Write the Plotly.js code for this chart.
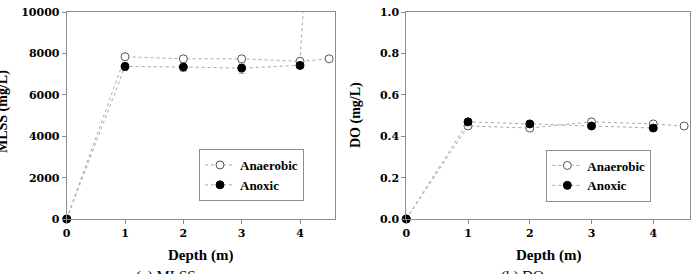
<!DOCTYPE html>
<html>
<head>
<meta charset="utf-8">
<script src="https://cdn.plot.ly/plotly-3.0.1.min.js"></script>
<style>html,body{margin:0;padding:0;background:#fff;}#chart{width:694px;height:274px;}</style>
</head>
<body>
<div id="chart"></div>
<script>
// ---- data ----
const depthAnaerobic = [0, 1, 2, 3, 4, 4.5];
const depthAnoxic = [0, 1, 2, 3, 4];
const mlssAnaerobic = [0, 7850, 7750, 7750, 7630, 7750];
const mlssAnaerobicErr = [0, 150, 150, 150, 100, 0];
const mlssAnoxic = [0, 7380, 7350, 7300, 7430];
const mlssAnoxicErr = [0, 200, 200, 250, 100];
const mlssSpikeX = [4, 4.06];
const mlssSpikeY = [7630, 10300];
const doAnaerobic = [0, 0.45, 0.44, 0.47, 0.46, 0.45];
const doAnoxic = [0, 0.47, 0.46, 0.45, 0.44];
const xTicks = [0, 1, 2, 3, 4];
const seriesNames = ['Anaerobic', 'Anoxic'];

const serif = 'Liberation Serif';
const tickSerif = 'DejaVu Serif';
const lineStyle = {color: '#a8a8a8', width: 1, dash: 'dot'};
const openMarker = {symbol: 'circle', size: 8, color: '#ffffff', line: {color: '#555555', width: 1}};
const fullMarker = {symbol: 'circle', size: 8, color: '#000000', line: {color: '#000000', width: 1}};
const errStyle = {type: 'data', visible: true, color: '#999999', thickness: 1, width: 3};

const traces = [
  {x: mlssSpikeX, y: mlssSpikeY, mode: 'lines', line: lineStyle, showlegend: false, xaxis: 'x', yaxis: 'y', hoverinfo: 'skip'},
  {x: depthAnaerobic, y: mlssAnaerobic, name: seriesNames[0], mode: 'lines+markers', line: lineStyle, marker: openMarker,
   error_y: Object.assign({array: mlssAnaerobicErr}, errStyle), xaxis: 'x', yaxis: 'y', legend: 'legend', cliponaxis: false},
  {x: depthAnoxic, y: mlssAnoxic, name: seriesNames[1], mode: 'lines+markers', line: lineStyle, marker: fullMarker,
   error_y: Object.assign({array: mlssAnoxicErr}, errStyle), xaxis: 'x', yaxis: 'y', legend: 'legend', cliponaxis: false},
  {x: depthAnaerobic, y: doAnaerobic, name: seriesNames[0], mode: 'lines+markers', line: lineStyle, marker: openMarker,
   xaxis: 'x2', yaxis: 'y2', legend: 'legend2', cliponaxis: false},
  {x: depthAnoxic, y: doAnoxic, name: seriesNames[1], mode: 'lines+markers', line: lineStyle, marker: fullMarker,
   xaxis: 'x2', yaxis: 'y2', legend: 'legend2', cliponaxis: false}
];

const tickFont = {family: tickSerif, size: 11, color: '#000', weight: 'bold'};
const axisBase = {showline: true, mirror: true, linecolor: '#8c8c8c', linewidth: 1, showgrid: false, zeroline: false,
  ticks: 'outside', ticklen: 4, tickcolor: '#8c8c8c', tickfont: tickFont, fixedrange: true};

const W = 694, H = 274;
const legendBase = {font: {family: serif, size: 13, color: '#000', weight: 'bold'}, bordercolor: '#8c8c8c', borderwidth: 1,
  bgcolor: '#ffffff', xanchor: 'left', yanchor: 'top', tracegroupgap: 0, itemwidth: 30};

const titleFont = {family: serif, size: 15, color: '#000', weight: 'bold'};
const layout = {
  width: W, height: H,
  margin: {l: 0, r: 0, t: 0, b: 0},
  paper_bgcolor: '#fff', plot_bgcolor: '#fff',
  showlegend: true,
  font: {family: serif},
  xaxis: Object.assign({}, axisBase, {domain: [66.7 / W, 335 / W], range: [0, 4.6], tickvals: xTicks, anchor: 'y'}),
  yaxis: Object.assign({}, axisBase, {domain: [55 / H, 261.7 / H], range: [0, 10000], dtick: 2000, tick0: 0, tickformat: 'd', anchor: 'x'}),
  xaxis2: Object.assign({}, axisBase, {domain: [406.3 / W, 690.3 / W], range: [0, 4.6], tickvals: xTicks, anchor: 'y2'}),
  yaxis2: Object.assign({}, axisBase, {domain: [55 / H, 261.7 / H], range: [0, 1], dtick: 0.2, tick0: 0, tickformat: '.1f', anchor: 'x2'}),
  legend: Object.assign({}, legendBase, {x: 199 / W, y: 1 - 149 / H}),
  legend2: Object.assign({}, legendBase, {x: 546.3 / W, y: 1 - 149.5 / H}),
  annotations: [
    {text: 'MLSS (mg/L)', xref: 'paper', yref: 'paper', x: 3 / W, y: 1 - 112 / H, xanchor: 'center', yanchor: 'middle', textangle: -90, showarrow: false,
     font: {family: serif, size: 14, color: '#000', weight: 'bold'}},
    {text: 'DO (mg/L)', xref: 'paper', yref: 'paper', x: 356 / W, y: 1 - 115 / H, xanchor: 'center', yanchor: 'middle', textangle: -90, showarrow: false,
     font: {family: serif, size: 14, color: '#000', weight: 'bold'}},
    {text: 'Depth (m)', xref: 'paper', yref: 'paper', x: 200 / W, y: 1 - 255 / H, xanchor: 'center', yanchor: 'middle', showarrow: false, font: titleFont},
    {text: 'Depth (m)', xref: 'paper', yref: 'paper', x: 548 / W, y: 1 - 255 / H, xanchor: 'center', yanchor: 'middle', showarrow: false, font: titleFont},
    {text: '(a) MLSS', xref: 'paper', yref: 'paper', x: 166 / W, y: 1 - 266 / H, xanchor: 'center', yanchor: 'top', showarrow: false,
     font: {family: serif, size: 15, color: '#000'}},
    {text: '(b) DO', xref: 'paper', yref: 'paper', x: 522 / W, y: 1 - 266 / H, xanchor: 'center', yanchor: 'top', showarrow: false,
     font: {family: serif, size: 15, color: '#000'}}
  ]
};

Plotly.newPlot('chart', traces, layout, {displayModeBar: false, staticPlot: true});
</script>
</body>
</html>
